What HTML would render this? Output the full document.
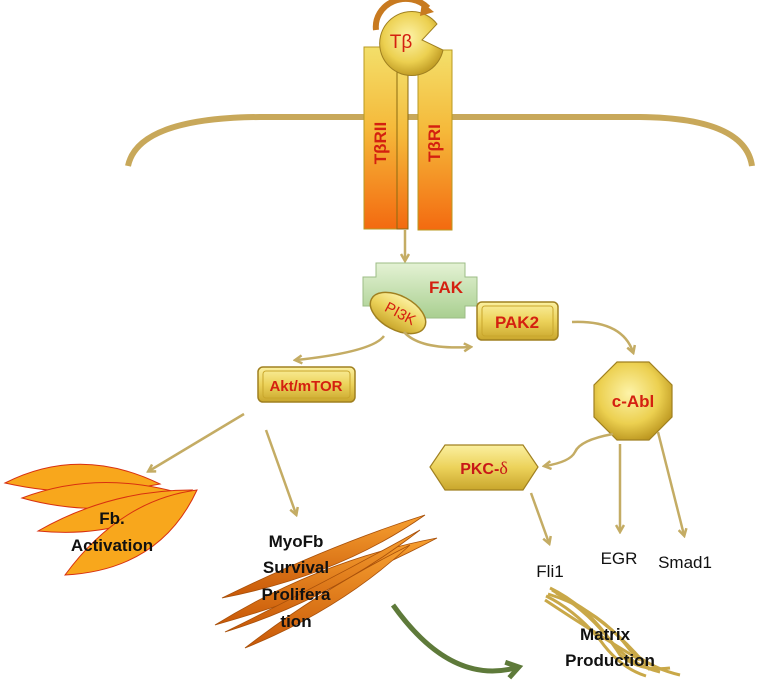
<!DOCTYPE html>
<html><head><meta charset="utf-8"><style>
html,body{margin:0;padding:0;background:#fff;width:765px;height:697px;overflow:hidden}
svg{display:block}
text{font-family:"Liberation Sans",sans-serif}
</style></head><body>
<svg width="765" height="697" viewBox="0 0 765 697" xmlns="http://www.w3.org/2000/svg">
<defs>
<linearGradient id="rec" x1="0" y1="0" x2="0" y2="1">
<stop offset="0" stop-color="#f3df6a"/><stop offset="0.45" stop-color="#f5b93a"/><stop offset="1" stop-color="#f36a10"/></linearGradient>
<linearGradient id="gold" x1="0" y1="0" x2="0" y2="1">
<stop offset="0" stop-color="#fbf0a0"/><stop offset="0.5" stop-color="#ecd25a"/><stop offset="1" stop-color="#c9a62c"/></linearGradient>
<radialGradient id="ball" cx="0.45" cy="0.4" r="0.65">
<stop offset="0" stop-color="#fdf3a8"/><stop offset="0.6" stop-color="#ecd050"/><stop offset="1" stop-color="#b8921c"/></radialGradient>
<linearGradient id="grn" x1="0" y1="0" x2="0" y2="1">
<stop offset="0" stop-color="#e4f2d4"/><stop offset="1" stop-color="#a9cf90"/></linearGradient>
<linearGradient id="spin" x1="0" y1="0" x2="0" y2="1">
<stop offset="0" stop-color="#f7a030"/><stop offset="1" stop-color="#c85808"/></linearGradient>
<marker id="ah" markerWidth="10" markerHeight="10" refX="7" refY="5" orient="auto" markerUnits="userSpaceOnUse">
<path d="M1,1 L8,5 L1,9" fill="none" stroke="#c4ac64" stroke-width="2.5"/></marker>
<marker id="gh" markerWidth="20" markerHeight="20" refX="10" refY="10" orient="auto" markerUnits="userSpaceOnUse">
<path d="M2,2 L14,10 L2,18" fill="none" stroke="#5e7a3a" stroke-width="5"/></marker>
</defs>

<path d="M128,166 Q138,118 260,117 L640,117 Q745,118 752,166" fill="none" stroke="#c8a85a" stroke-width="6"/>

<rect x="364" y="47" width="33" height="182" fill="url(#rec)" stroke="#b89a20" stroke-width="1"/>
<rect x="397" y="60" width="11" height="169" fill="url(#rec)" stroke="#8a6a10" stroke-width="1"/>
<rect x="418" y="50" width="34" height="180" fill="url(#rec)" stroke="#b89a20" stroke-width="1"/>
<text transform="translate(386,143) rotate(-90)" text-anchor="middle" font-size="17" font-weight="bold" fill="#d42010">TβRII</text>
<text transform="translate(440,143) rotate(-90)" text-anchor="middle" font-size="17" font-weight="bold" fill="#d42010">TβRI</text>
<path d="M437,24 A32,32 0 1,0 443,50 L422,40 Z" fill="url(#ball)" stroke="#a08020" stroke-width="1"/>
<path d="M376,30 A30,28 0 0,1 428,8" fill="none" stroke="#c87a20" stroke-width="6"/>
<path d="M422,2 L434,12 L420,16 Z" fill="#c87a20"/>
<text x="401" y="48" text-anchor="middle" font-size="19" fill="#d42010" font-family="Liberation Serif">Tβ</text>

<line x1="405" y1="230" x2="405" y2="260" stroke="#c4ac64" stroke-width="2.5" marker-end="url(#ah)"/>
<path d="M376,263 H465 V277 H477 V306 H465 V318 H376 V306 H363 V277 H376 Z" fill="url(#grn)" stroke="#9cbc86" stroke-width="1"/>
<text x="446" y="293" text-anchor="middle" font-size="17" font-weight="bold" fill="#d42010">FAK</text>
<ellipse cx="398" cy="313" rx="30" ry="17" transform="rotate(28 398 313)" fill="url(#gold)" stroke="#a08020" stroke-width="1.5"/>
<text transform="translate(398,318) rotate(28)" text-anchor="middle" font-size="15" fill="#d42010">PI3K</text>

<rect x="477" y="302" width="81" height="38" rx="5" fill="url(#gold)" stroke="#a08020" stroke-width="1.5"/>
<rect x="482" y="306" width="71" height="30" rx="3" fill="none" stroke="#c9a62c" stroke-width="1"/>
<text x="517" y="328" text-anchor="middle" font-size="17" font-weight="bold" fill="#d42010">PAK2</text>
<path d="M404,332 Q420,350 470,347" fill="none" stroke="#c4ac64" stroke-width="2.5" marker-end="url(#ah)"/>

<rect x="258" y="367" width="97" height="35" rx="5" fill="url(#gold)" stroke="#a08020" stroke-width="1.5"/>
<rect x="263" y="371" width="87" height="27" rx="3" fill="none" stroke="#c9a62c" stroke-width="1"/>
<text x="306" y="391" text-anchor="middle" font-size="15" font-weight="bold" fill="#d42010">Akt/mTOR</text>
<path d="M384,336 Q372,352 296,360" fill="none" stroke="#c4ac64" stroke-width="2.5" marker-end="url(#ah)"/>

<path d="M572,322 Q622,320 633,352" fill="none" stroke="#c4ac64" stroke-width="2.5" marker-end="url(#ah)"/>
<polygon points="617,362 649,362 672,385 672,417 649,440 617,440 594,417 594,385" fill="url(#ball)" stroke="#a08020" stroke-width="1.2"/>
<text x="633" y="407" text-anchor="middle" font-size="17" font-weight="bold" fill="#d42010">c-Abl</text>

<polygon points="445,445 523,445 538,467 523,490 445,490 430,467" fill="url(#gold)" stroke="#a08020" stroke-width="1.2"/>
<text x="484" y="474" text-anchor="middle" font-size="16" font-weight="bold" fill="#c81818">PKC-<tspan font-family="Liberation Serif" font-weight="normal" font-size="18">δ</tspan></text>

<path d="M613,434 Q580,440 575,452 Q570,462 545,466" fill="none" stroke="#c4ac64" stroke-width="2.5" marker-end="url(#ah)"/>
<line x1="620" y1="444" x2="620" y2="531" stroke="#c4ac64" stroke-width="2.5" marker-end="url(#ah)"/>
<line x1="658" y1="432" x2="684" y2="535" stroke="#c4ac64" stroke-width="2.5" marker-end="url(#ah)"/>
<line x1="531" y1="493" x2="549" y2="543" stroke="#c4ac64" stroke-width="2.5" marker-end="url(#ah)"/>

<text x="550" y="577" text-anchor="middle" font-size="17" fill="#111">Fli1</text>
<text x="619" y="564" text-anchor="middle" font-size="17" fill="#111">EGR</text>
<text x="685" y="568" text-anchor="middle" font-size="17" fill="#111">Smad1</text>

<line x1="244" y1="414" x2="149" y2="471" stroke="#c4ac64" stroke-width="2.5" marker-end="url(#ah)"/>
<line x1="266" y1="430" x2="296" y2="514" stroke="#c4ac64" stroke-width="2.5" marker-end="url(#ah)"/>

<g fill="#f8a71c" stroke="#d83010" stroke-width="1">
<path d="M5,483 Q80,445 160,484 Q80,500 5,483 Z"/>
<path d="M22,498 Q100,468 190,496 Q100,520 22,498 Z"/>
<path d="M38,531 Q110,490 192,490 Q130,540 38,531 Z"/>
<path d="M65,575 Q120,500 197,490 Q160,570 65,575 Z"/>
</g>
<text x="112" y="524" text-anchor="middle" font-size="17" font-weight="bold" fill="#111">Fb.</text>
<text x="112" y="551" text-anchor="middle" font-size="17" font-weight="bold" fill="#111">Activation</text>

<g fill="url(#spin)" stroke="#a8500a" stroke-width="0.8">
<path d="M222,598 Q330,545 425,515 Q340,575 222,598 Z"/>
<path d="M215,625 Q320,560 437,538 Q340,590 215,625 Z"/>
<path d="M225,632 Q330,580 420,530 Q330,600 225,632 Z"/>
<path d="M245,648 Q320,590 410,545 Q340,610 245,648 Z"/>
</g>
<text x="296" y="547" text-anchor="middle" font-size="17" font-weight="bold" fill="#111">MyoFb</text>
<text x="296" y="573" text-anchor="middle" font-size="17" font-weight="bold" fill="#111">Survival</text>
<text x="296" y="600" text-anchor="middle" font-size="17" font-weight="bold" fill="#111">Prolifera</text>
<text x="296" y="627" text-anchor="middle" font-size="17" font-weight="bold" fill="#111">tion</text>

<path d="M393,605 Q450,685 515,668" fill="none" stroke="#5e7a3a" stroke-width="5" marker-end="url(#gh)"/>

<g fill="none" stroke="#c9a848" stroke-width="3">
<path d="M548,594 Q600,610 630,650 Q650,668 680,675"/>
<path d="M552,590 Q595,615 620,655 Q640,672 670,668"/>
<path d="M545,600 Q590,630 640,660"/>
<path d="M556,593 Q610,620 650,670"/>
<path d="M550,588 Q585,605 610,640 Q630,665 660,672"/>
<path d="M546,596 Q575,610 600,640 Q620,668 646,676"/>
</g>
<text x="605" y="640" text-anchor="middle" font-size="17" font-weight="bold" fill="#111">Matrix</text>
<text x="610" y="666" text-anchor="middle" font-size="17" font-weight="bold" fill="#111">Production</text>
</svg>
</body></html>
